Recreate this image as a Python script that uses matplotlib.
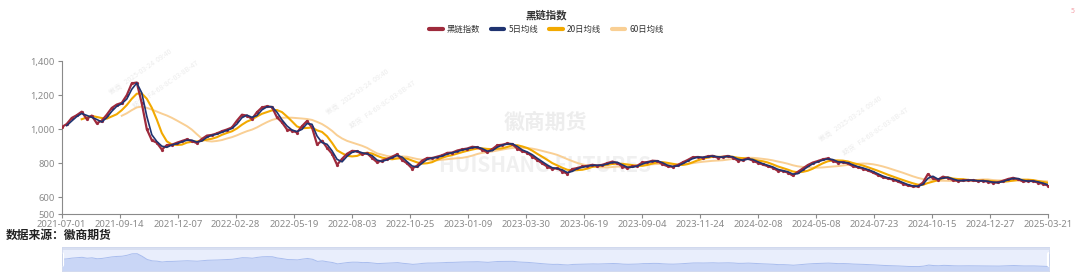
import numpy as np
import pandas as pd
import matplotlib
matplotlib.use("Agg")
import matplotlib.pyplot as plt
from matplotlib.ticker import FuncFormatter

plt.rcParams['font.family'] = ['Noto Sans CJK SC', 'DejaVu Sans']

# index values (about every 4-5 trading days)
index_vals = [
    1012, 1030, 1066, 1082, 1103, 1060, 1080, 1035, 1050, 1085,
    1125, 1145, 1155, 1200, 1270, 1275, 1152, 1000, 935, 920,
    880, 906, 908, 920, 930, 940, 930, 918, 942, 962,
    966, 975, 988, 998, 1010, 1050, 1085, 1080, 1060, 1100,
    1128, 1135, 1130, 1070, 1040, 998, 992, 980, 1018, 1048,
    1010, 910, 932, 890, 855, 790, 825, 855, 872, 870,
    852, 858, 830, 805, 815, 825, 838, 852, 818, 798,
    768, 785, 815, 830, 830, 838, 846, 860, 862, 874,
    881, 886, 896, 893, 878, 864, 882, 905, 908, 916,
    912, 885, 870, 861, 838, 818, 798, 779, 766, 770,
    750, 738, 765, 771, 780, 784, 790, 785, 790, 800,
    809, 800, 779, 772, 780, 785, 804, 806, 814, 812,
    793, 782, 778, 788, 804, 818, 834, 836, 832, 840,
    843, 832, 837, 842, 833, 815, 818, 828, 815, 802,
    792, 782, 773, 755, 755, 744, 727, 748, 768, 788,
    803, 812, 822, 828, 814, 803, 806, 798, 782, 776,
    767, 757, 745, 730, 717, 710, 703, 692, 679, 668,
    663, 663, 685, 735, 710, 702, 720, 713, 700, 695,
    698, 700, 698, 694, 696, 690, 685, 686, 696, 706,
    713, 705, 692, 695, 694, 685, 678, 667,
]

date_labels = ['2021-07-01', '2021-09-14', '2021-12-07', '2022-02-28', '2022-05-19',
               '2022-08-03', '2022-10-25', '2023-01-09', '2023-03-30', '2023-06-19',
               '2023-09-04', '2023-11-24', '2024-02-08', '2024-05-08', '2024-07-23',
               '2024-10-15', '2024-12-27', '2025-03-21']

y_ticks = [500, 600, 800, 1000, 1200, 1400]

s = pd.Series(index_vals, dtype=float)
ma5 = s.rolling(2).mean()
ma20 = s.rolling(5).mean()
ma60 = s.rolling(13).mean()
x = np.arange(len(s))

c_idx = '#9e2a3c'
c_5 = '#1f3370'
c_20 = '#f2a900'
c_60 = '#f9cf94'

fig = plt.figure(figsize=(10.8, 2.78), dpi=100)
ax = fig.add_axes([0.0571, 0.2302, 0.9133, 0.5493])

# watermarks
ax.text(0.49, 0.60, '徽商期货', transform=ax.transAxes, ha='center', va='center',
        fontsize=15, fontweight='bold', color='#ededed', zorder=0)
ax.text(0.49, 0.32, 'HUISHANG FUTURES', transform=ax.transAxes, ha='center', va='center',
        fontsize=15, fontweight='bold', color='#f0f0f0', zorder=0)
for wx, wy in [(0.08, 0.93), (0.30, 0.80), (0.80, 0.62)]:
    ax.text(wx, wy, '徽商   2025-03-24  09:40', transform=ax.transAxes, rotation=35,
            fontsize=5, color='#ececec', ha='center', va='center', zorder=0)
    ax.text(wx + 0.025, wy - 0.08, '期货   F4-68-8C-03-8B-47', transform=ax.transAxes, rotation=35,
            fontsize=5, color='#ececec', ha='center', va='center', zorder=0)

ax.plot(x, ma60, color=c_60, lw=1.4, label='60日均线', zorder=2)
ax.plot(x, ma20, color=c_20, lw=1.5, label='20日均线', zorder=3)
ax.plot(x, s, color=c_idx, lw=1.6, marker='o', ms=1.3, label='黑链指数', zorder=4)
ax.plot(x, ma5, color=c_5, lw=1.2, label='5日均线', zorder=5)

ax.set_xlim(0, len(s) - 1)
ax.set_ylim(500, 1400)
ax.set_yticks(y_ticks)
ax.yaxis.set_major_formatter(FuncFormatter(lambda v, p: f'{int(v):,}'))
ax.set_xticks(np.linspace(0, len(s) - 1, len(date_labels)))
ax.set_xticklabels(date_labels)
ax.tick_params(axis='both', colors='#8a8a8a', labelsize=6.8, length=3, width=0.8)
ax.tick_params(axis='x', pad=1)
ax.tick_params(axis='y', pad=2)
for lab in ax.get_xticklabels() + ax.get_yticklabels():
    lab.set_fontfamily('Noto Sans')
for side in ['top', 'right']:
    ax.spines[side].set_visible(False)
for side in ['left', 'bottom']:
    ax.spines[side].set_color('#8a8a8a')
    ax.spines[side].set_linewidth(0.8)

fig.text(0.506, 0.945, '黑链指数', ha='center', va='center', fontsize=7.5,
         fontweight='bold', color='#333333')
handles, labels = ax.get_legend_handles_labels()
order = [2, 3, 1, 0]
leg = fig.legend([plt.Line2D([], [], color=h.get_color(), lw=3, solid_capstyle='round') for h in [handles[i] for i in order]],
                 [labels[i] for i in order], loc='center', bbox_to_anchor=(0.506, 0.895),
                 ncol=4, frameon=False, fontsize=6, handlelength=1.6, handletextpad=0.5,
                 columnspacing=1.3)
for t in leg.get_texts():
    t.set_color('#333333')

fig.text(0.005, 0.152, '数据来源：徽商期货', ha='left', va='center', fontsize=8.5,
         fontweight='bold', color='#222222')
fig.text(0.995, 0.975, '5', ha='right', va='top', fontsize=5, color='#f4a0a8')

# data zoom slider
sl = fig.add_axes([0.0574, 0.025, 0.9139, 0.087])
sl.set_facecolor('#e9eefc')
sl.fill_between(x, s, 450, color='#c9d6f6', lw=0)
sl.plot(x, s, color='#a9bdee', lw=0.7)
sl.axhspan(1450, 1600, color='#d8dff1', lw=0)
sl.set_xlim(0, len(s) - 1)
sl.set_ylim(450, 1600)
sl.set_xticks([])
sl.set_yticks([])
for sp in sl.spines.values():
    sp.set_color('#d0d8ee')
    sp.set_linewidth(0.6)
for hx in [0, len(s) - 1]:
    sl.plot([hx, hx], [750, 1250], color='#ffffff', lw=3, solid_capstyle='round', clip_on=False)
    sl.plot([hx, hx], [750, 1250], color='#aab6d3', lw=0.6, clip_on=False)

fig.savefig('out.png', dpi=100)
